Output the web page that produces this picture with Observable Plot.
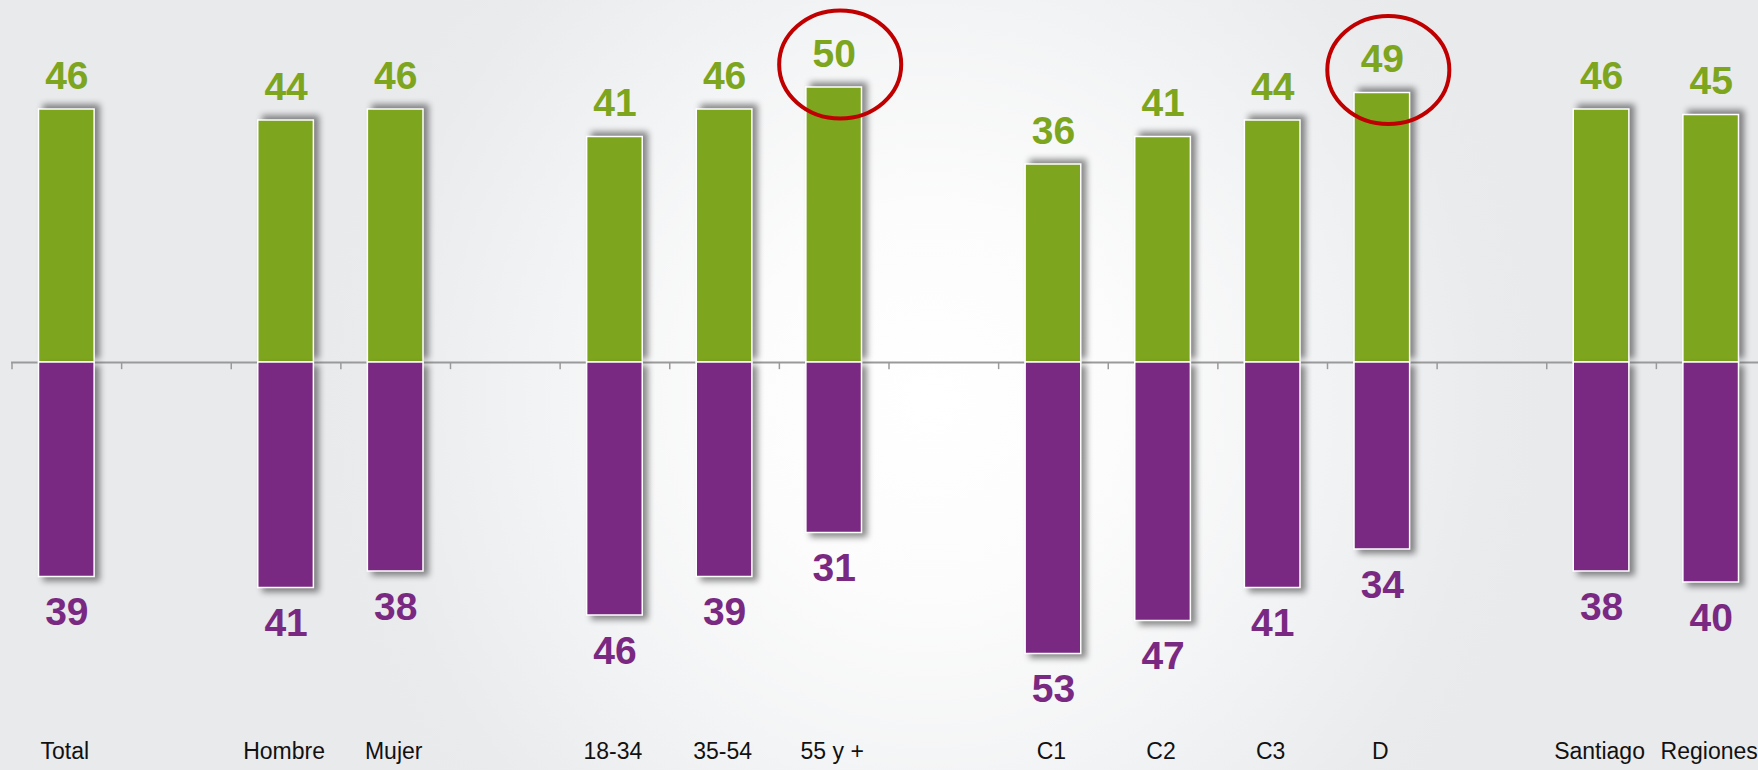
<!DOCTYPE html>
<html>
<head>
<meta charset="utf-8">
<script src="https://cdn.jsdelivr.net/npm/d3@7"></script>
<script src="https://cdn.jsdelivr.net/npm/@observablehq/plot@0.6"></script>
<style>
  html, body { margin: 0; padding: 0; overflow: hidden; }
  body {
    width: 1758px; height: 770px;
    background-color: #e9eaec;
    background-image: radial-gradient(ellipse 620px 640px at 930px 400px, #ffffff 0%, #fcfcfc 30%, #f3f4f5 60%, #eaebed 90%, #e9eaec 100%);
  }
  #chart svg g[fill="#7da51d"] rect { filter: drop-shadow(5px -4px 3px rgba(0,0,0,0.45)); }
  #chart svg g[fill="#7a2982"] rect { filter: drop-shadow(5px 4px 3px rgba(0,0,0,0.45)); }
</style>
</head>
<body>
<div id="chart"></div>
<script>
// ---- data ----
const categories = ["Total", "Hombre", "Mujer", "18-34", "35-54", "55 y +", "C1", "C2", "C3", "D", "Santiago", "Regiones"];
const groupIds   = [0, 1, 1, 2, 2, 2, 3, 3, 3, 3, 4, 4];
const positive   = [46, 44, 46, 41, 46, 50, 36, 41, 44, 49, 46, 45];
const negative   = [39, 41, 38, 46, 39, 31, 53, 47, 41, 34, 38, 40];
const highlighted = ["55 y +", "D"];

// ---- build domain with empty slots between groups ----
const domain = [];
categories.forEach((c, i) => {
  if (i > 0 && groupIds[i] !== groupIds[i - 1]) domain.push("gap" + groupIds[i]);
  domain.push(c);
});
const rows = categories.map((c, i) => ({category: c, pos: positive[i], neg: negative[i]}));

const GREEN = "#7da51d", PURPLE = "#7a2982", RED = "#c00000", AXIS = "#9a9a9a";
const FONT = "'Liberation Sans', Arial, Helvetica, sans-serif";
const xRange = [11.5, 1765.5];
const step = (xRange[1] - xRange[0]) / domain.length;

// ellipse symbol for the highlight rings
const ellipse = {
  draw(ctx, size) {
    const r = Math.sqrt(size / Math.PI), rx = r * 1.13, ry = r, k = 0.5523;
    ctx.moveTo(rx, 0);
    ctx.bezierCurveTo(rx, ry * k, rx * k, ry, 0, ry);
    ctx.bezierCurveTo(-rx * k, ry, -rx, ry * k, -rx, 0);
    ctx.bezierCurveTo(-rx, -ry * k, -rx * k, -ry, 0, -ry);
    ctx.bezierCurveTo(rx * k, -ry, rx, -ry * k, rx, 0);
    ctx.closePath();
  }
};

const chart = Plot.plot({
  width: 1758,
  height: 770,
  marginLeft: 11,
  marginRight: 0,
  marginTop: 0,
  marginBottom: 12,
  style: {background: "transparent", fontFamily: FONT},
  x: {type: "band", domain, range: xRange, padding: 0, round: false, axis: null},
  y: {domain: [-60, 60], range: [692, 32], axis: null},
  marks: [
    Plot.ruleY([0], {stroke: AXIS, strokeWidth: 2}),
    Plot.ruleX(domain, {x: d => d, y1: 0, y2: -1.3, dx: -step / 2, stroke: AXIS, strokeWidth: 1.5}),
    Plot.barY(rows, {x: "category", y1: 0, y2: "pos", fill: GREEN, stroke: "white", strokeWidth: 1.5, insetLeft: 27, insetRight: 27}),
    Plot.barY(rows, {x: "category", y1: 0, y2: d => -d.neg, fill: PURPLE, stroke: "white", strokeWidth: 1.5, insetLeft: 27, insetRight: 27}),
    Plot.text(rows, {x: "category", y: "pos", text: d => String(d.pos), dy: -33, fill: GREEN, fontSize: 39, fontWeight: "bold", fontFamily: FONT}),
    Plot.text(rows, {x: "category", y: d => -d.neg, text: d => String(d.neg), dy: 36, fill: PURPLE, fontSize: 39, fontWeight: "bold", fontFamily: FONT}),
    Plot.text(rows, {x: "category", frameAnchor: "bottom", text: "category", dx: -2, fontSize: 23, fill: "#111", fontFamily: FONT}),
    Plot.dot(rows.filter(d => highlighted.includes(d.category)), {
      x: "category", y: "pos", r: 54, symbol: ellipse, dx: 6, dy: -23,
      stroke: RED, strokeWidth: 4, fill: "none"
    })
  ]
});
document.getElementById("chart").appendChild(chart);
</script>
</body>
</html>
